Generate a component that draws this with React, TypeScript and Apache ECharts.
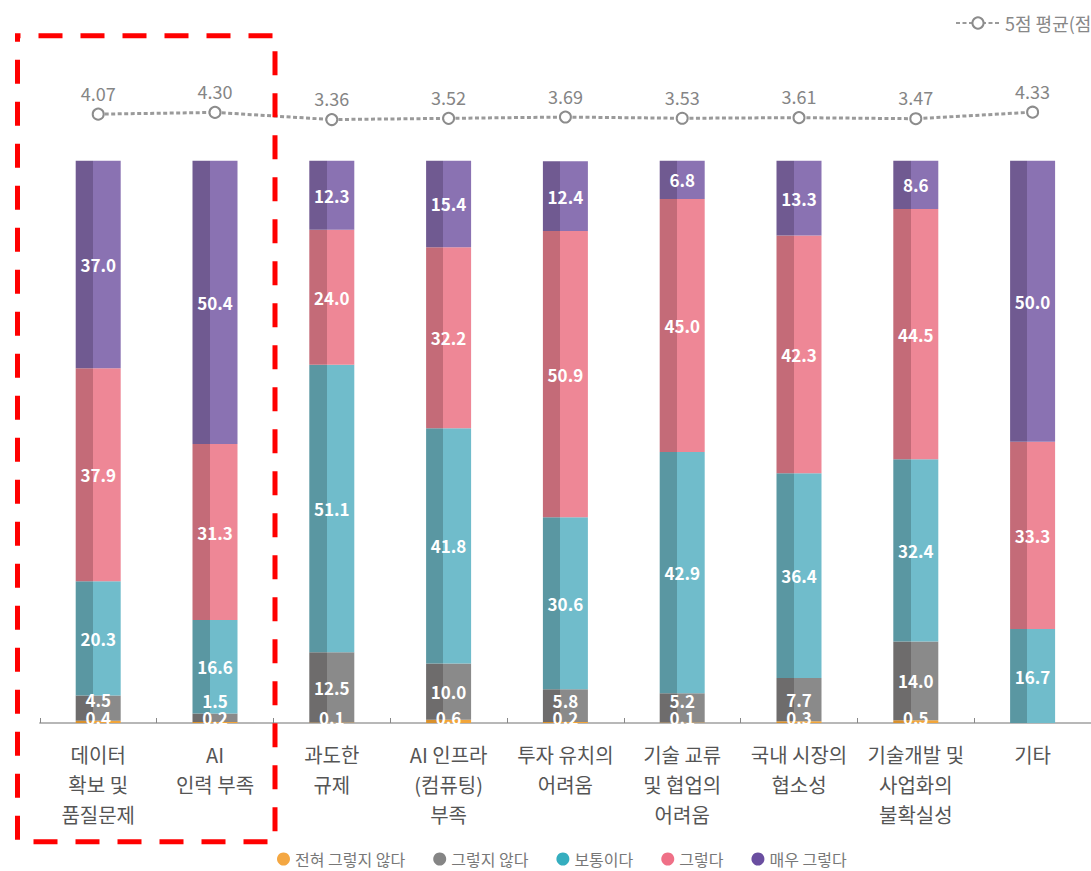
import React, { useEffect, useRef } from "react";
import * as echarts from "echarts";

const categories = [
  "데이터\n확보 및\n품질문제",
  "AI\n인력 부족",
  "과도한\n규제",
  "AI 인프라\n(컴퓨팅)\n부족",
  "투자 유치의\n어려움",
  "기술 교류\n및 협업의\n어려움",
  "국내 시장의\n협소성",
  "기술개발 및\n사업화의\n불확실성",
  "기타",
];

const seriesNames = ["전혀 그렇지 않다", "그렇지 않다", "보통이다", "그렇다", "매우 그렇다"];
const stronglyDisagree = [0.4, 0.2, 0.1, 0.6, 0.2, 0.1, 0.3, 0.5, 0];
const disagree = [4.5, 1.5, 12.5, 10.0, 5.8, 5.2, 7.7, 14.0, 0];
const neutral = [20.3, 16.6, 51.1, 41.8, 30.6, 42.9, 36.4, 32.4, 16.7];
const agree = [37.9, 31.3, 24.0, 32.2, 50.9, 45.0, 42.3, 44.5, 33.3];
const stronglyAgree = [37.0, 50.4, 12.3, 15.4, 12.4, 6.8, 13.3, 8.6, 50.0];
const averageName = "5점 평균(점)";
const average = [4.07, 4.3, 3.36, 3.52, 3.69, 3.53, 3.61, 3.47, 4.33];

const FONT = "'Noto Sans CJK KR', 'Noto Sans', sans-serif";

const barColors = [
  { dark: "#d9912c", light: "#f2a53a", legend: "#f4a742" },
  { dark: "#6e6c6c", light: "#8a8a8a", legend: "#858585" },
  { dark: "#5a97a2", light: "#70bccb", legend: "#35aebf" },
  { dark: "#c46b78", light: "#ee8796", legend: "#ef7087" },
  { dark: "#705a91", light: "#8a72b2", legend: "#6a4ea0" },
];

const split = (c: { dark: string; light: string }) =>
  new echarts.graphic.LinearGradient(0, 0, 1, 0, [
    { offset: 0, color: c.dark },
    { offset: 0.385, color: c.dark },
    { offset: 0.385, color: c.light },
    { offset: 1, color: c.light },
  ]);

const fmt = (p: any) => {
  const v = Number(p.value);
  return v > 0 ? v.toFixed(1) : "";
};

export default function App() {
  const ref = useRef<HTMLDivElement>(null);
  useEffect(() => {
    if (!ref.current) return;
    const chart = echarts.init(ref.current, null, { renderer: "svg" });
    const dataSets = [stronglyDisagree, disagree, neutral, agree, stronglyAgree];
    const barSeries = dataSets.map((arr, i) => {
      let data: any[] = arr;
      if (i === 1) {
        data = arr.map((v) =>
          v > 0 && v < 6
            ? { value: v, label: { position: "insideBottom", distance: 13 } }
            : { value: v }
        );
      }
      return {
        name: seriesNames[i],
        type: "bar",
        stack: "total",
        barWidth: 45,
        data,
        itemStyle: { color: split(barColors[i]) },
        label: {
          show: true,
          position: i === 0 ? "insideBottom" : "inside",
          distance: i === 0 ? 0 : 5,
          offset: i === 0 ? [0, 3] : [0, 0],
          color: "#ffffff",
          fontSize: 17,
          fontWeight: "bold",
          fontFamily: FONT,
          formatter: fmt,
        },
        emphasis: { disabled: true },
      };
    });

    chart.setOption({
      animation: false,
      textStyle: { fontFamily: FONT },
      grid: { left: 39.8, top: 160.7, width: 1057, height: 562.3, containLabel: false },
      legend: [
        {
          data: seriesNames.map((n, i) => ({ name: n, itemStyle: { color: barColors[i].legend } })),
          icon: "circle",
          left: 272,
          top: 846,
          itemWidth: 13,
          itemHeight: 13,
          itemGap: 28,
          textStyle: { fontSize: 16, color: "#777", fontFamily: FONT },
          selectedMode: false,
        },
        {
          data: [averageName],
          left: 950,
          top: 9,
          itemWidth: 44,
          itemHeight: 14,
          textStyle: { fontSize: 18, color: "#888", fontFamily: FONT },
          selectedMode: false,
        },
      ],
      xAxis: {
        type: "category",
        data: categories,
        boundaryGap: true,
        axisLine: { show: true, lineStyle: { color: "#a0a0a0", width: 1.5 } },
        axisTick: { show: true, inside: true, length: 5, lineStyle: { color: "#888" } },
        axisLabel: {
          interval: 0,
          fontSize: 20,
          lineHeight: 30,
          color: "#555",
          margin: 16,
          fontFamily: FONT,
        },
      },
      yAxis: [
        { type: "value", min: 0, max: 100, show: false },
        { type: "value", min: -76, max: -2.05, show: false },
      ],
      series: [
        ...barSeries,
        {
          name: averageName,
          type: "line",
          yAxisIndex: 1,
          data: average,
          clip: false,
          symbol: "emptyCircle",
          symbolSize: 11,
          itemStyle: { color: "#8c8c8c", borderWidth: 2.5 },
          lineStyle: { color: "#9a9a9a", width: 3, type: [4, 2.5] },
          label: {
            show: true,
            position: "top",
            distance: 6,
            color: "#858585",
            fontSize: 18,
            fontFamily: FONT,
            formatter: (p: any) => Number(p.value).toFixed(2),
          },
          emphasis: { disabled: true },
          z: 5,
        },
      ],
      graphic: [
        {
          type: "rect",
          z: 100,
          shape: { x: 17.5, y: 35.7, width: 257.5, height: 806 },
          style: {
            fill: "none",
            stroke: "#ff0000",
            lineWidth: 5,
            lineDash: [24, 18],
            lineDashOffset: 20.5,
          },
          silent: true,
        },
      ],
    });
    return () => chart.dispose();
  }, []);
  return (
    <div
      ref={ref}
      style={{ position: "absolute", left: 0, top: 0, width: 1091, height: 871, background: "#fff" }}
    />
  );
}
